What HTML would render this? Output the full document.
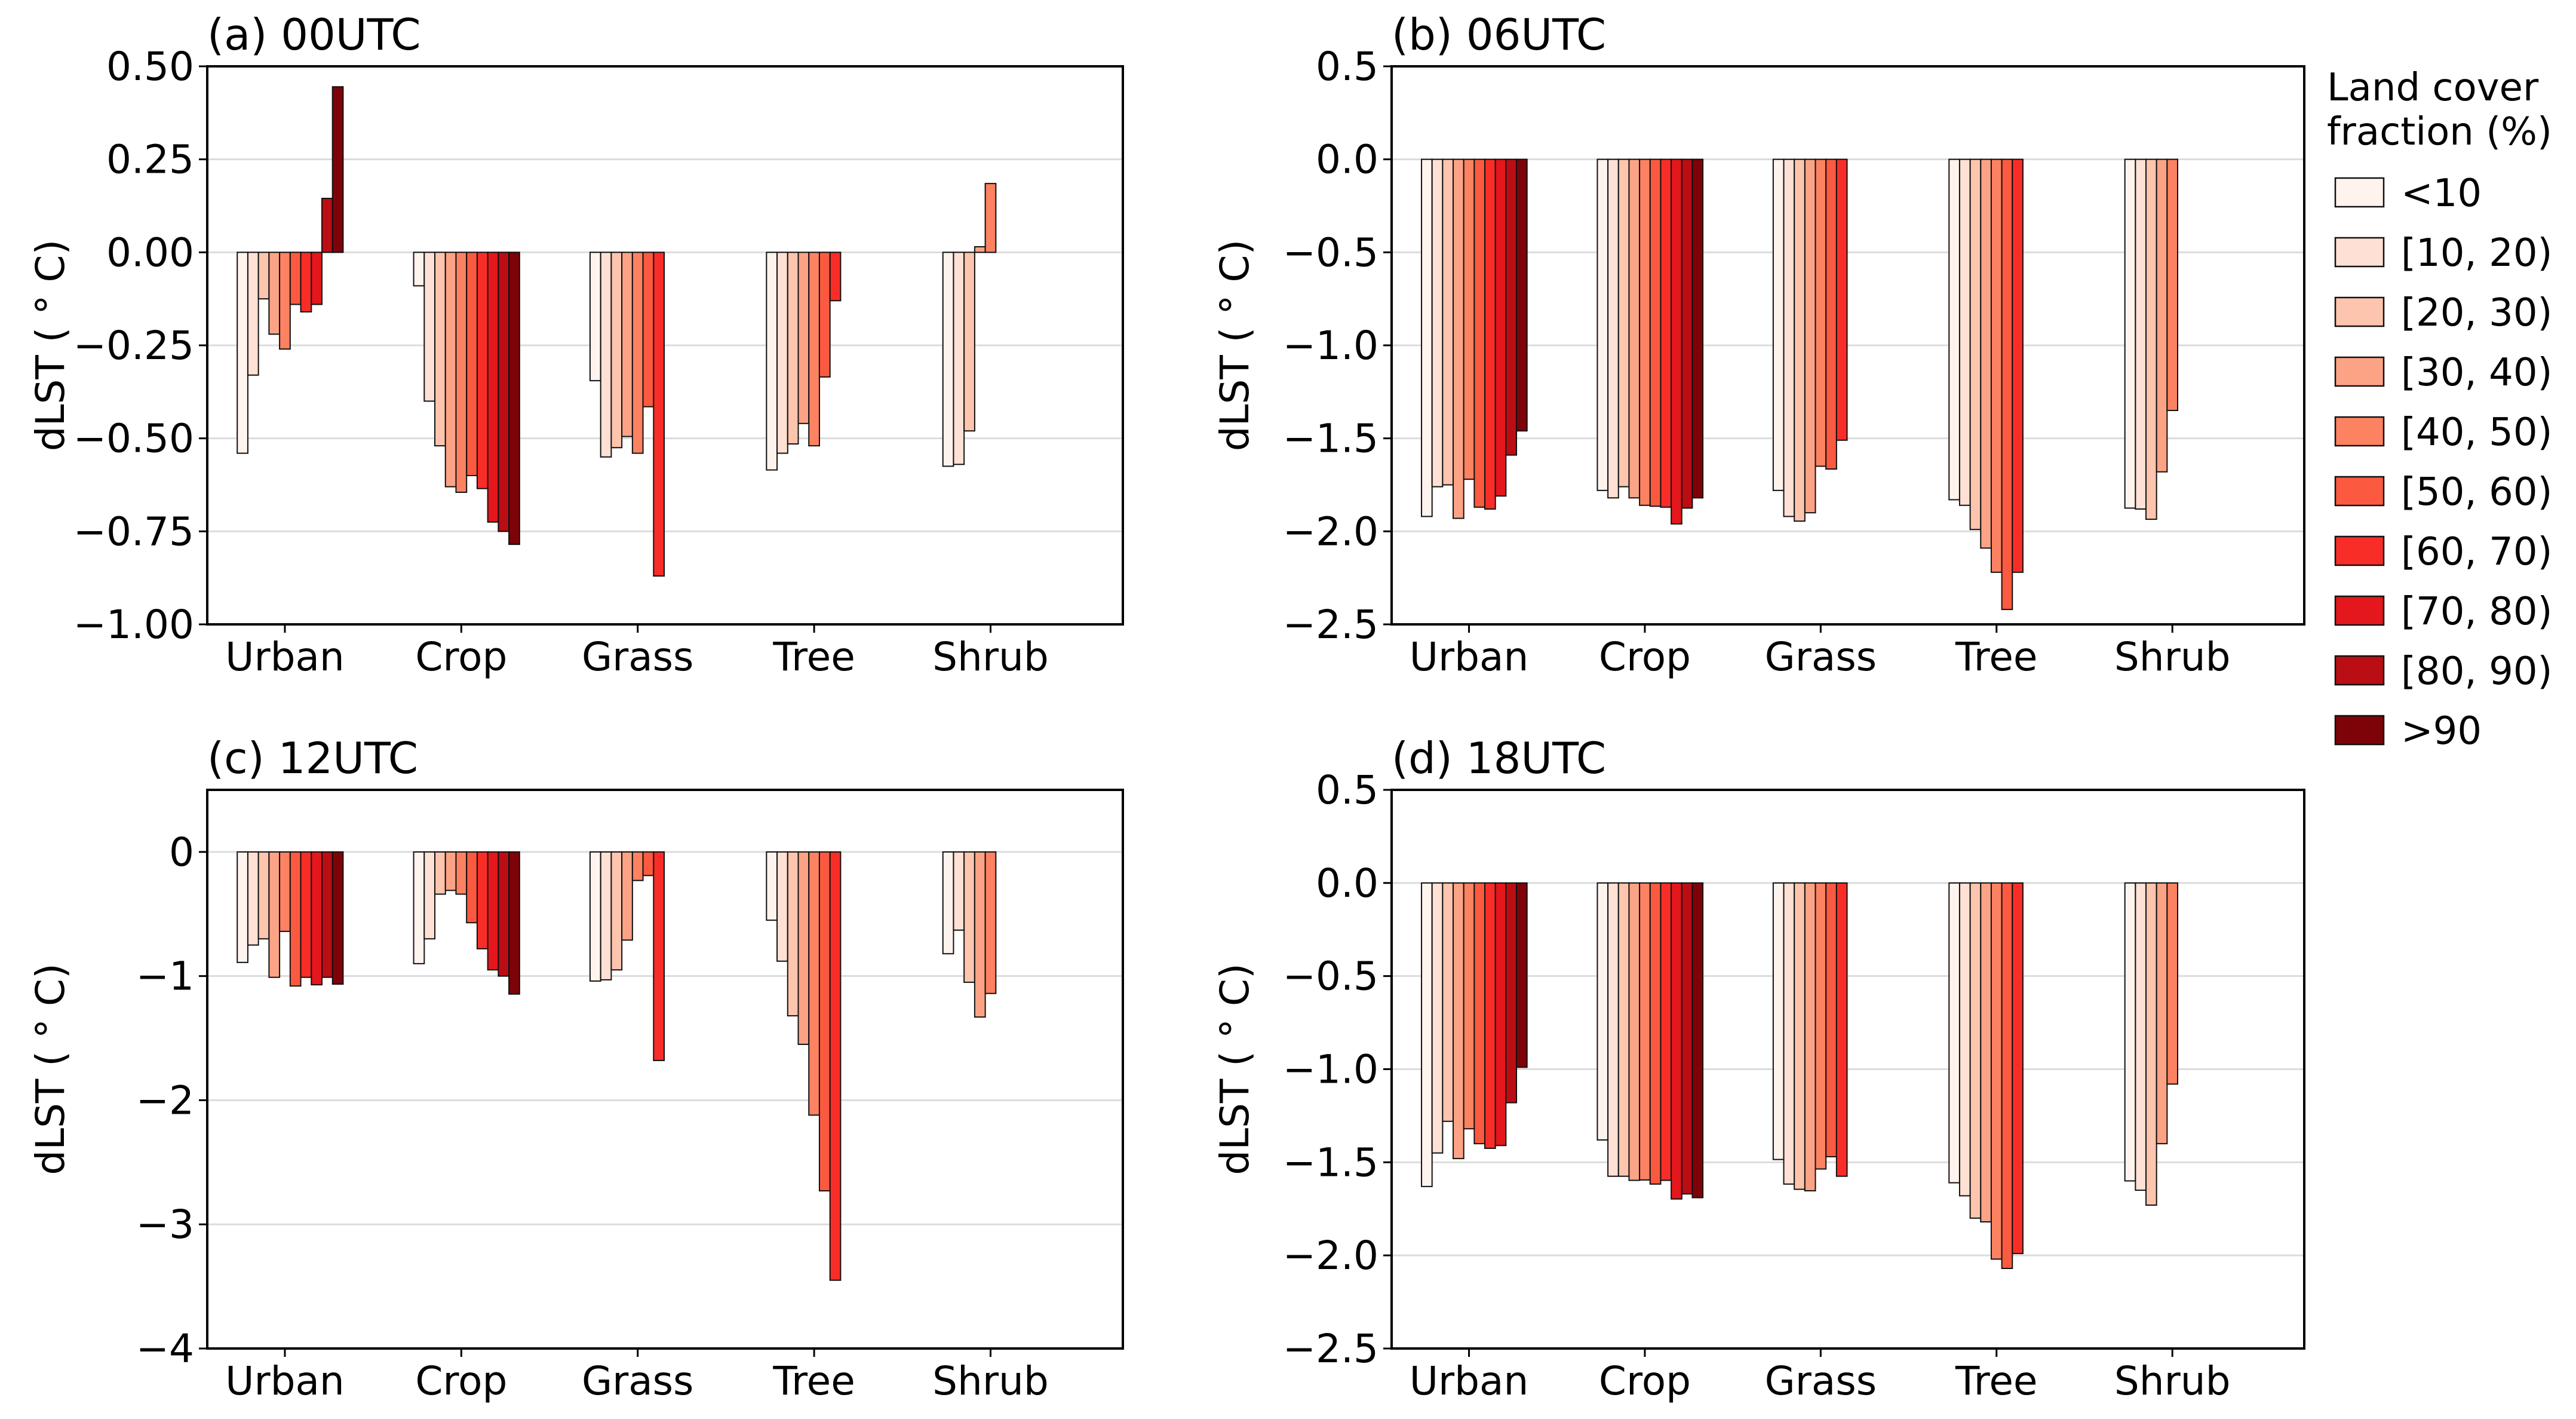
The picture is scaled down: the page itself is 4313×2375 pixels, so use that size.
<!DOCTYPE html>
<html><head><meta charset="utf-8"><style>
body{margin:0;background:#fff;}
svg{display:block;font-family:"DejaVu Sans","Liberation Sans",sans-serif;}
</style></head><body>
<svg id="fig" width="4313" height="2375" viewBox="0 0 4313 2375" xmlns="http://www.w3.org/2000/svg">
<rect width="4313" height="2375" fill="#fff"/>
</svg>
<script>
const categories=['Urban','Crop','Grass','Tree','Shrub'];
const classLabels=['<10','[10, 20)','[20, 30)','[30, 40)','[40, 50)','[50, 60)','[60, 70)','[70, 80)','[80, 90)','>90'];
const colors=['#fff3ee','#fee1d4','#fdc5ad','#fca386','#fc8262','#fb5a40','#f92d27','#e3171c','#bb0d14','#7d0309'];
const valuesA=[[-0.54,-0.33,-0.125,-0.22,-0.26,-0.14,-0.16,-0.14,0.145,0.445],[-0.09,-0.40,-0.52,-0.63,-0.645,-0.60,-0.635,-0.725,-0.75,-0.785],[-0.345,-0.55,-0.525,-0.495,-0.54,-0.415,-0.87],[-0.585,-0.54,-0.515,-0.46,-0.52,-0.335,-0.13],[-0.575,-0.57,-0.48,0.015,0.185]];
const valuesB=[[-1.92,-1.76,-1.75,-1.93,-1.72,-1.87,-1.88,-1.81,-1.59,-1.46],[-1.78,-1.82,-1.76,-1.82,-1.86,-1.865,-1.87,-1.96,-1.875,-1.82],[-1.78,-1.92,-1.945,-1.90,-1.65,-1.665,-1.51],[-1.83,-1.86,-1.99,-2.09,-2.22,-2.42,-2.22],[-1.875,-1.88,-1.935,-1.68,-1.35]];
const valuesC=[[-0.89,-0.75,-0.70,-1.01,-0.64,-1.08,-1.01,-1.07,-1.01,-1.065],[-0.90,-0.70,-0.34,-0.31,-0.34,-0.57,-0.78,-0.95,-1.0,-1.145],[-1.04,-1.03,-0.95,-0.71,-0.23,-0.19,-1.68],[-0.55,-0.88,-1.32,-1.55,-2.12,-2.73,-3.45],[-0.82,-0.63,-1.05,-1.33,-1.14]];
const valuesD=[[-1.63,-1.45,-1.28,-1.48,-1.32,-1.40,-1.425,-1.41,-1.18,-0.99],[-1.38,-1.575,-1.575,-1.597,-1.595,-1.617,-1.597,-1.697,-1.67,-1.69],[-1.485,-1.617,-1.645,-1.653,-1.536,-1.47,-1.575],[-1.61,-1.68,-1.80,-1.82,-2.02,-2.07,-1.99],[-1.60,-1.65,-1.73,-1.40,-1.08]];
const ticksA=[-1,-0.75,-0.5,-0.25,0,0.25,0.5];
const tickLabelsA=['−1.00','−0.75','−0.50','−0.25','0.00','0.25','0.50'];
const ticksB=[-2.5,-2,-1.5,-1,-0.5,0,0.5];
const tickLabelsB=['−2.5','−2.0','−1.5','−1.0','−0.5','0.0','0.5'];
const ticksC=[-4,-3,-2,-1,0];
const tickLabelsC=['−4','−3','−2','−1','0'];
const titles=['(a) 00UTC','(b) 06UTC','(c) 12UTC','(d) 18UTC'];

const NS='http://www.w3.org/2000/svg';
const svg=document.getElementById('fig');
function mk(tag,attrs,parent,text){const e=document.createElementNS(NS,tag);for(const k in attrs)e.setAttribute(k,attrs[k]);if(text!==undefined)e.textContent=text;(parent||svg).appendChild(e);return e;}

const panels=[
 {key:'a',L:347,R:1880,T:111,B:1045,ymin:-1,ymax:0.5,ticks:ticksA,labels:tickLabelsA,vals:valuesA,title:titles[0]},
 {key:'b',L:2330,R:3858,T:111,B:1045,ymin:-2.5,ymax:0.5,ticks:ticksB,labels:tickLabelsB,vals:valuesB,title:titles[1]},
 {key:'c',L:347,R:1880,T:1322,B:2257,ymin:-4,ymax:0.5,ticks:ticksC,labels:tickLabelsC,vals:valuesC,title:titles[2]},
 {key:'d',L:2330,R:3858,T:1322,B:2257,ymin:-2.5,ymax:0.5,ticks:ticksB,labels:tickLabelsB,vals:valuesD,title:titles[3]}
];
panels.forEach(p=>{
 const g=mk('g',{});
 
 
 const y=v=>p.B-(v-p.ymin)/(p.ymax-p.ymin)*(p.B-p.T);
 const unit=(p.R-p.L)/5.19;
 const x=i=>p.L+(i+0.44)*unit;
 const w=unit*0.06;
 p.ticks.forEach((t,k)=>{
  const gl=mk('line',{x1:p.L,x2:p.R,y1:y(t),y2:y(t),stroke:'#dcdcdc','stroke-width':3},g);
  
  
  mk('line',{x1:p.L-14,x2:p.L,y1:y(t),y2:y(t),stroke:'#000','stroke-width':3},g);
  const tl=mk('text',{x:p.L-22,y:y(t)+23,'text-anchor':'end','font-size':66,fill:'#000'},g,p.labels[k]);
  
  
 });
 p.vals.forEach((arr,i)=>{
  arr.forEach((v,j)=>{
   const bx=x(i)+(j-4.5)*w;
   const y0=y(0),y1=y(v);
   const r=mk('rect',{x:bx,y:Math.min(y0,y1),width:w,height:Math.abs(y1-y0),fill:colors[j],stroke:'#111','stroke-width':2},g);
   
   
  });
  mk('line',{x1:x(i),x2:x(i),y1:p.B,y2:p.B+14,stroke:'#000','stroke-width':3},g);
  const cl=mk('text',{x:x(i),y:p.B+77,'text-anchor':'middle','font-size':66,fill:'#000'},g,categories[i]);
  
  
 });
 mk('rect',{x:p.L,y:p.T,width:p.R-p.L,height:p.B-p.T,fill:'none',stroke:'#000','stroke-width':4},g);
 const tt=mk('text',{x:p.L,y:p.T-28,'font-size':72,fill:'#000'},g,p.title);
 
 
 const yl=mk('text',{x:0,y:0,'text-anchor':'middle','font-size':66,fill:'#000',transform:`translate(${p.L-240},${(p.T+p.B)/2}) rotate(-90)`},g,'dLST ( ° C)');
 
 
});
// legend
const lg=mk('g',{});


mk('text',{x:3896,y:168,'font-size':64,fill:'#000'},lg,'Land cover');
mk('text',{x:3896,y:242,'font-size':64,fill:'#000'},lg,'fraction (%)');
classLabels.forEach((lab,j)=>{
 const cy=322+j*100;
 const e=mk('g',{},lg);
 
 
 mk('rect',{x:3910,y:cy-24,width:81,height:48,fill:colors[j],stroke:'#111','stroke-width':2.5},e);
 mk('text',{x:4020,y:cy+23,'font-size':64,fill:'#000'},e,lab);
});
</script>
</body></html>
